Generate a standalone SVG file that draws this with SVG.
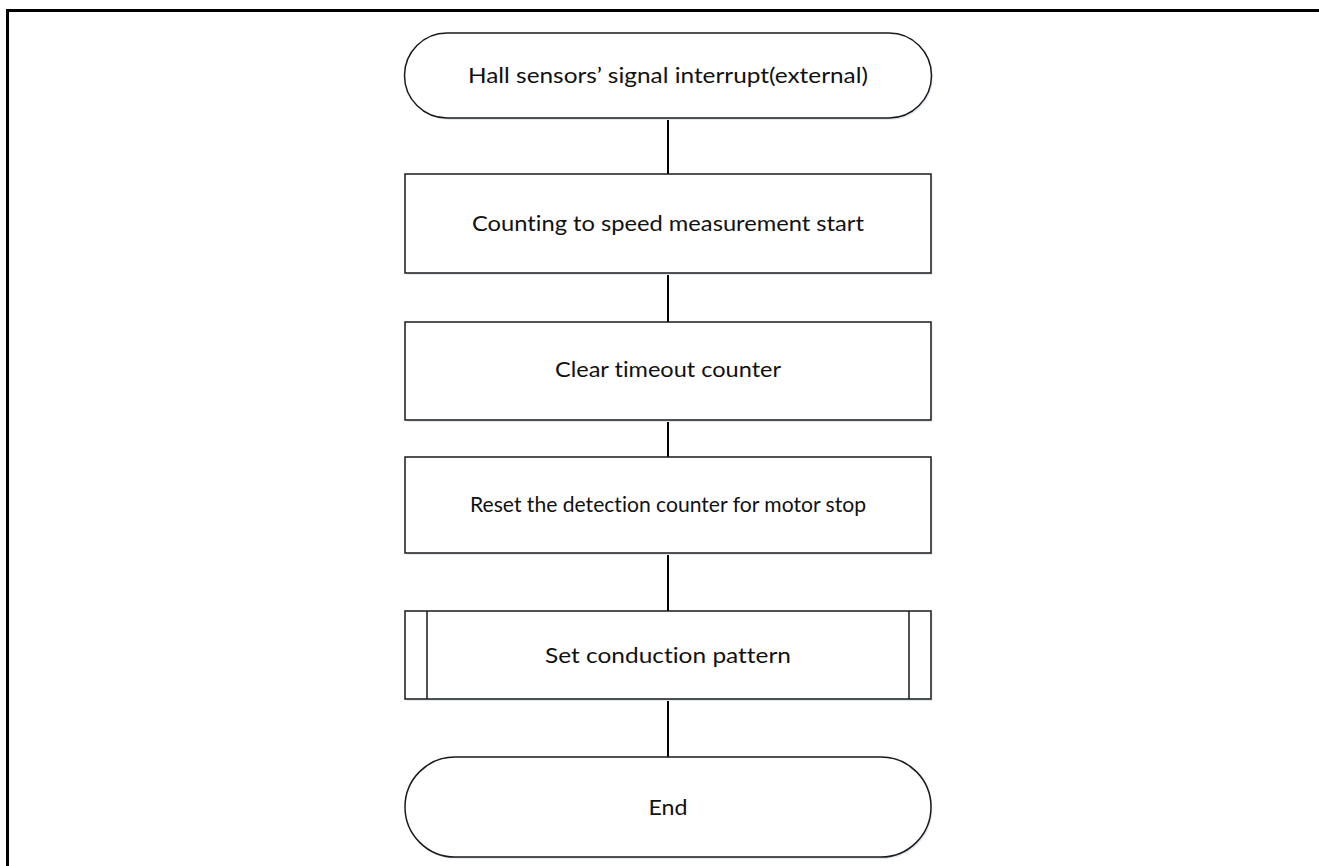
<svg xmlns="http://www.w3.org/2000/svg" width="1319" height="866" viewBox="0 0 1319 866">
<style>
.shape{fill:#ffffff;stroke:#1a1a1a;stroke-width:1.5}
.shadow{fill:#e3e9f1;stroke:none}
.lbl{font-family:"Lato","Liberation Sans",sans-serif;font-size:21px;fill:#111111;text-anchor:middle;font-variant-ligatures:none}
.conn line{stroke:#000000;stroke-width:2}
.frame{stroke:#000000;stroke-width:3;fill:none}
</style>
<rect width="1319" height="866" fill="#ffffff"/>
<path class="frame" d="M7.5 866 V10.5 H1319"/>
<g id="connectors" class="conn">
<line x1="668" y1="118" x2="668" y2="174"/>
<line x1="668" y1="273" x2="668" y2="322"/>
<line x1="668" y1="420" x2="668" y2="457"/>
<line x1="668" y1="553" x2="668" y2="611"/>
<line x1="668" y1="699" x2="668" y2="757"/>
</g>
<g id="start">
<rect class="shadow" x="406" y="35" width="527" height="85" rx="42.5"/>
<rect class="shape" x="404.5" y="33" width="527" height="85" rx="42.5"/>
<text class="lbl" x="668" y="83" textLength="400" lengthAdjust="spacingAndGlyphs">Hall sensors’ signal interrupt(external)</text>
</g>
<g id="counting">
<rect class="shadow" x="406.5" y="176" width="526" height="99"/>
<rect class="shape" x="405" y="174" width="526" height="99"/>
<text class="lbl" x="668" y="231" textLength="392" lengthAdjust="spacingAndGlyphs">Counting to speed measurement start</text>
</g>
<g id="clear">
<rect class="shadow" x="406.5" y="324" width="526" height="98"/>
<rect class="shape" x="405" y="322" width="526" height="98"/>
<text class="lbl" x="668" y="377" textLength="226" lengthAdjust="spacingAndGlyphs">Clear timeout counter</text>
</g>
<g id="reset">
<rect class="shadow" x="406.5" y="459" width="526" height="96"/>
<rect class="shape" x="405" y="457" width="526" height="96"/>
<text class="lbl" x="668" y="512" textLength="396" lengthAdjust="spacingAndGlyphs">Reset the detection counter for motor stop</text>
</g>
<g id="setpattern">
<rect class="shadow" x="406.5" y="613" width="526" height="88"/>
<rect class="shape" x="405" y="611" width="526" height="88"/>
<line x1="427" y1="611" x2="427" y2="699" stroke="#1a1a1a" stroke-width="1.5"/>
<line x1="909" y1="611" x2="909" y2="699" stroke="#1a1a1a" stroke-width="1.5"/>
<text class="lbl" x="668" y="663" textLength="246" lengthAdjust="spacingAndGlyphs" fill="#333333">Set conduction pattern</text>
</g>
<g id="end">
<rect class="shadow" x="406.5" y="759" width="526" height="100" rx="50"/>
<rect class="shape" x="405" y="757" width="526" height="100" rx="50"/>
<text class="lbl" x="668" y="815" textLength="39" lengthAdjust="spacingAndGlyphs">End</text>
</g>
</svg>
